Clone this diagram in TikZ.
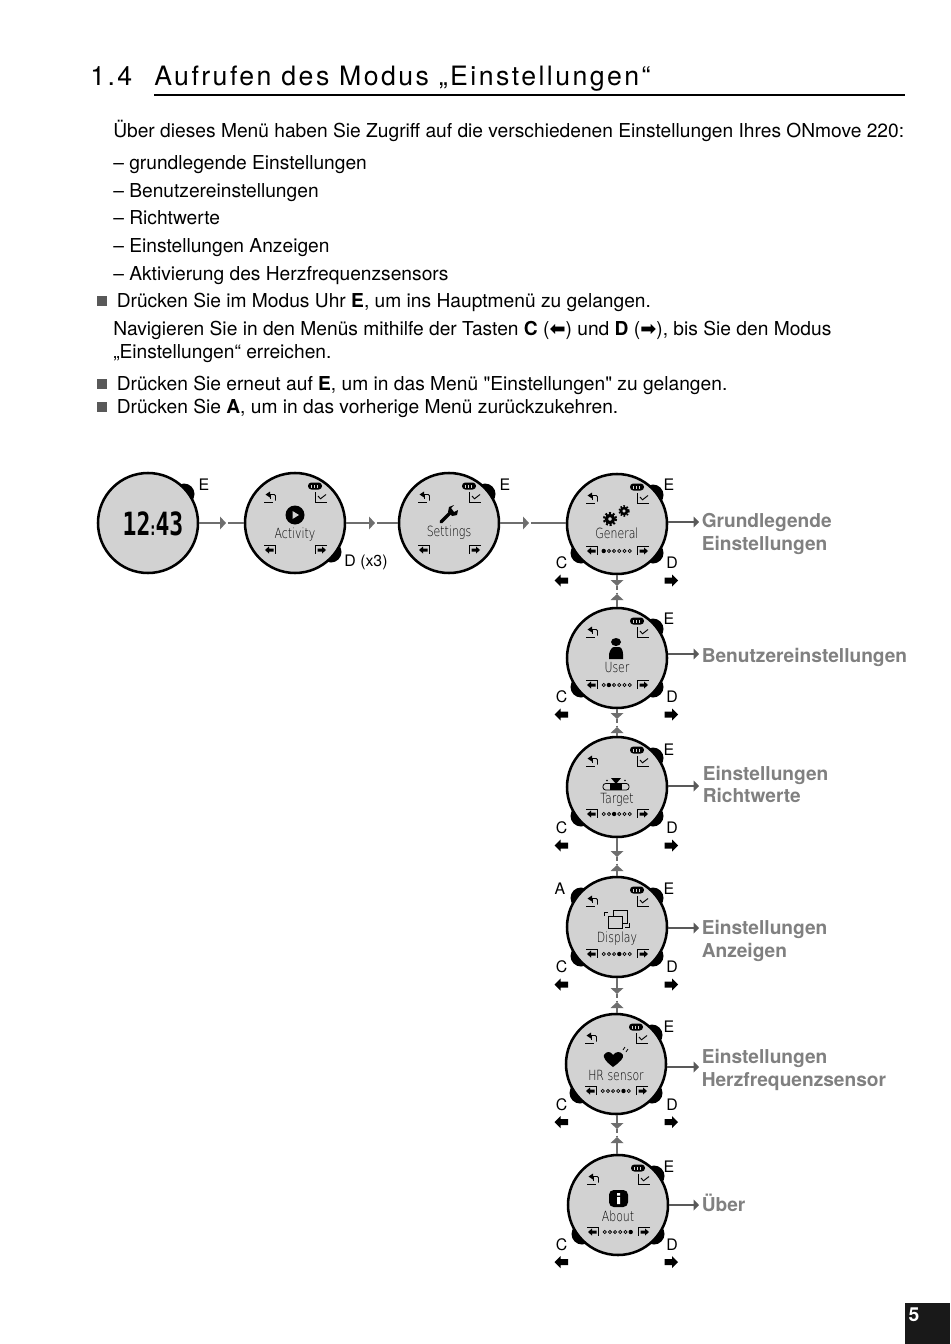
\documentclass[tikz,border=0pt]{standalone}
\usepackage{fontspec}
\usetikzlibrary{arrows.meta}
\setmainfont{TeX Gyre Heros}
\newfontfamily\titlefont[LetterSpace=9.2]{TeX Gyre Heros}
\newfontfamily\plainquote{TeX Gyre Heros}
\newfontfamily\lcdfont{DejaVu Sans ExtraLight}
\newfontfamily\clockfont{DejaVu Sans Mono Bold}
\newfontfamily\arrowfont{DejaVu Sans Bold}
\definecolor{facegray}{HTML}{D2D2D2}
\definecolor{linkgray}{HTML}{6E6E6E}
\definecolor{labelgray}{HTML}{808080}
\tikzset{
  bodytext/.style={anchor=base west, inner sep=0pt, font=\fontsize{14.4}{16}\selectfont},
  sidetext/.style={anchor=base west, inner sep=0pt, text=labelgray, font=\fontsize{14.35}{16}\selectfont\bfseries},
  keytext/.style={anchor=center, inner sep=0pt, font=\fontsize{11.9}{13}\selectfont},
  lcdtext/.style={anchor=base, inner sep=0pt, xscale=0.78, text=black, font=\fontsize{10.5}{12}\lcdfont},
  watch/.style={circle, draw=black, fill=facegray, line width=1.9pt, minimum size=75pt, inner sep=0pt},
  bullet/.style={rectangle, fill=black!65, minimum size=7.5pt, inner sep=0pt},
  link/.style={draw=linkgray, line width=1.4pt},
  flow/.style={link, -{Triangle[length=4.5pt,width=9.5pt]}},
  outflow/.style={draw=black!65, line width=1.2pt, -{Triangle[length=4pt,width=8pt]}},
  thinline/.style={line width=0.7pt, black},
  backicon/.pic={
    \draw[thinline] (-6,5) -- (3,5);
    \draw[thinline, rounded corners=1pt] (0,-2.5) -- (5.5,-2.5) -- (5.5,3.5);
    \draw[thinline] (0,-2.5) -- (0,2);
    \fill (-4.5,-2.5) -- (0,-5.5) -- (0,0.5) -- cycle;
  },
  checkicon/.pic={
    \draw[thinline] (-6,-5) -- (-6,5) -- (6,5);
    \draw[thinline] (-3,-1) -- (-0.5,1.8) -- (5,-2.5);
  },
  battery/.pic={
    \fill[rounded corners=2.5pt] (-7,-3.5) rectangle (7,3.5);
    \fill[facegray] (-4.5,-1.5) rectangle (3,1.5);
    \fill (-3,-1.5) rectangle (-1.5,1.5);
    \fill (0,-1.5) rectangle (1.5,1.5);
  },
  leftkey/.pic={
    \draw[thinline] (-6,-5) -- (5.5,-5) -- (5.5,4);
    \fill (-5,0) -- (-1,-3.5) -- (-1,-1.5) -- (3.5,-1.5) -- (3.5,1.5) -- (-1,1.5) -- (-1,3.5) -- cycle;
  },
  rightkey/.pic={
    \draw[thinline] (6,-5) -- (-5.5,-5) -- (-5.5,4);
    \fill (5,0) -- (1,-3.5) -- (1,-1.5) -- (-3.5,-1.5) -- (-3.5,1.5) -- (1,1.5) -- (1,3.5) -- cycle;
  },
  blockleft/.pic={
    \fill (-7,0) -- (-1,-6) -- (-1,-3) -- (6.5,-3) -- (6.5,3) -- (-1,3) -- (-1,6) -- cycle;
  },
  blockright/.pic={
    \fill (7,0) -- (1,-6) -- (1,-3) -- (-6.5,-3) -- (-6.5,3) -- (1,3) -- (1,6) -- cycle;
  },
}
% one pager dot row, the active dot is filled
\newcommand{\pagerdots}[1]{%
  \foreach \i in {1,...,6}{
    \ifnum\i=#1
      \fill (-18.5+5.2*\i,27) circle (2.2);
    \else
      \draw[line width=0.55pt] (-18.5+5.2*\i,27) circle (1.6);
    \fi
  }}
% buttons stay under the face
\newcommand{\buttonE}{\fill (36,-29) circle (10.5);}
\newcommand{\buttonD}{\fill (36,29) circle (10.5);}
\newcommand{\buttonC}{\fill (-36,29) circle (10.5);}
\newcommand{\buttonA}{\fill (-36,-29) circle (10.5);}
\newcommand{\faceicons}{%
  \pic at (-25,-26) {backicon};
  \pic at (26,-26) {checkicon};
  \pic at (20,-37) {battery};
  \pic at (-25,27) {leftkey};
  \pic at (26,27) {rightkey};
}
\begin{document}
\begin{tikzpicture}[x=0.75pt, y=-0.75pt]
    \useasboundingbox (0,0) rectangle (950,1344);
    \fill[white] (0,0) rectangle (950,1344);

    % heading
    \node[anchor=base west, inner sep=0pt, font=\fontsize{20}{22}\titlefont] (secnum) at (90,86) {1.4};
    \node[anchor=base west, inner sep=0pt, font=\fontsize{20}{22}\titlefont] (sectitle) at (154,86) {Aufrufen des Modus „Einstellungen“};
    \draw[line width=1.1pt] (154,95) -- (905,95);

    % text lines
    \node[bodytext] (t1) at (113,138) {Über dieses Menü haben Sie Zugriff auf die verschiedenen Einstellungen Ihres ONmove 220:};
    \node[bodytext] (t2) at (113,170) {– grundlegende Einstellungen};
    \node[bodytext] (t3) at (113,198) {– Benutzereinstellungen};
    \node[bodytext] (t4) at (113,225) {– Richtwerte};
    \node[bodytext] (t5) at (113,253) {– Einstellungen Anzeigen};
    \node[bodytext] (t6) at (113,281) {– Aktivierung des Herzfrequenzsensors};
    \node[bullet] (b1) at (101.5,301) {};
    \node[bodytext] (t7) at (116.5,307) {Drücken Sie im Modus Uhr \textbf{E}, um ins Hauptmenü zu gelangen.};
    \node[bodytext] (t8) at (113,335) {Navigieren Sie in den Menüs mithilfe der Tasten \textbf{C} ({\arrowfont ⬅}) und \textbf{D} ({\arrowfont ➡}), bis Sie den Modus};
    \node[bodytext] (t9) at (113,358) {„Einstellungen“ erreichen.};
    \node[bullet] (b2) at (101.5,384) {};
    \node[bodytext] (t10) at (116.5,390) {Drücken Sie erneut auf \textbf{E}, um in das Menü {\plainquote"}Einstellungen{\plainquote"} zu gelangen.};
    \node[bullet] (b3) at (101.5,407) {};
    \node[bodytext] (t11) at (116.5,413) {Drücken Sie \textbf{A}, um in das vorherige Menü zurückzukehren.};

    % clock
    \begin{scope}[shift={(148,523)}]
      \buttonE
      \node[watch] (clock) at (0,0) {};
      \node[inner sep=0pt, xscale=0.72, font=\fontsize{24}{26}\clockfont] (clocktime) at (5,1) {12\kern-1.5pt{\fontsize{14}{14}\selectfont:}\kern-1.5pt43};
    \end{scope}
    \node[keytext] (kclock) at (204,485) {E};

    % activity
    \begin{scope}[shift={(295,523)}]
      \buttonD
      \node[watch] (activity) at (0,0) {};
      \faceicons
      \node[lcdtext] (lactivity) at (0,15) {Activity};
      \fill (0,-8) circle (9.5);
      \fill[facegray] (-2.5,-12) -- (4,-8) -- (-2.5,-4) -- cycle;
    \end{scope}
    \node[keytext] (kactivity) at (366,562) {D (x3)};

    % settings
    \begin{scope}[shift={(449,523)}]
      \buttonE
      \node[watch] (settings) at (0,0) {};
      \faceicons
      \node[lcdtext] (lsettings) at (0,13.7) {Settings};
      \draw[line width=2.4pt, line cap=round] (-8,-1) -- (2,-11);
      \fill (5,-18) -- (2,-15) -- (5,-11) -- (9,-13) -- (8,-8) -- (3,-7) -- (-1,-11) -- (0,-16) -- cycle;
    \end{scope}
    \node[keytext] (ksettings) at (505,485) {E};

    % general
    \begin{scope}[shift={(617,524)}]
      \buttonE \buttonC \buttonD
      \node[watch] (general) at (0,0) {};
      \faceicons \pagerdots{1}
      \node[lcdtext] (lgeneral) at (0,14.5) {General};
      \draw[line width=2.4pt] (-7,-5) circle (3.6);
      \draw[line width=1.6pt, dash pattern=on 1.5pt off 1.4pt] (-7,-5) circle (6);
      \draw[line width=1.9pt] (7,-13) circle (3);
      \draw[line width=1.2pt, dash pattern=on 1.2pt off 1.2pt] (7,-13) circle (5);
    \end{scope}

    % user
    \begin{scope}[shift={(617,658)}]
      \buttonE \buttonC \buttonD
      \node[watch] (user) at (0,0) {};
      \faceicons \pagerdots{2}
      \node[lcdtext] (luser) at (0,14.7) {User};
      \fill (-1,-16) ellipse (5 and 4);
      \fill (-8,1) -- (-8,-4) .. controls (-7,-8) and (-5,-11) .. (-3,-11) -- (2,-11) .. controls (4,-11) and (6,-8) .. (6,-4) -- (6,1) -- cycle;
    \end{scope}

    % target
    \begin{scope}[shift={(617,787)}]
      \buttonE \buttonC \buttonD
      \node[watch] (target) at (0,0) {};
      \faceicons \pagerdots{3}
      \node[lcdtext] (ltarget) at (0,16) {Target};
      \draw[line width=0.6pt, rounded corners=2pt] (-14,-3.5) rectangle (12,3);
      \fill (-7,-3.5) rectangle (5,3);
      \fill (-6,-9) -- (4,-9) -- (-1,-3) -- cycle;
      \fill (-10,-6.5) circle (0.9) (8,-6.5) circle (0.9);
    \end{scope}

    % display
    \begin{scope}[shift={(617,927)}]
      \buttonA \buttonE \buttonC \buttonD
      \node[watch] (display) at (0,0) {};
      \faceicons \pagerdots{4}
      \node[lcdtext] (ldisplay) at (0,15) {Display};
      \draw[line width=0.6pt, fill=facegray] (-4,-17) rectangle (10,-4);
      \draw[line width=0.6pt, fill=facegray] (-9,-11) rectangle (5,1);
      \draw[line width=0.6pt] (-13,-11) -- (-13,-15) -- (-9,-15);
      \draw[line width=0.6pt] (12,-4) -- (12,0) -- (8,0);
    \end{scope}

    % heart rate
    \begin{scope}[shift={(616,1064)}]
      \buttonE \buttonC \buttonD
      \node[watch] (hrsensor) at (0,0) {};
      \faceicons \pagerdots{5}
      \node[lcdtext] (lhrsensor) at (0,16) {HR sensor};
      \fill (-3,3) .. controls (-11,-3) and (-13,-7) .. (-12,-9) .. controls (-10,-13) and (-5,-13) .. (-3,-9)
        .. controls (0,-13) and (5,-13) .. (7,-9) .. controls (8,-6) and (4,-2) .. (-3,3) -- cycle;
      \draw[line width=0.6pt] (7,-14) -- (9,-17) (10,-12) -- (12,-15);
    \end{scope}

    % about
    \begin{scope}[shift={(618,1205)}]
      \buttonE \buttonC \buttonD
      \node[watch] (about) at (0,0) {};
      \faceicons \pagerdots{6}
      \node[lcdtext] (labout) at (0,16) {About};
      \fill[rounded corners=3.5pt] (-9,-15) rectangle (10,2);
      \fill[white] (-1,-12) rectangle (2,-9.5) (-1,-8) rectangle (2,-1);
    \end{scope}

    % key letters and black arrows
    \foreach \cy/\nm in {524/gen, 658/usr, 789/tgt, 928/dsp, 1065.5/hrs, 1205.5/abt} {
      \node[keytext] (ke\nm) at (669,\cy-39) {E};
      \node[keytext] (kc\nm) at (561.5,\cy+39) {C};
      \node[keytext] (kd\nm) at (672,\cy+39) {D};
      \pic at (561.5,\cy+56.5) {blockleft};
      \pic at (671,\cy+56.5) {blockright};
    }
    \node[keytext] (kadsp) at (560,889) {A};

    % horizontal links
    \coordinate (c1) at (226,523);
    \coordinate (c2) at (228,523);
    \coordinate (c3) at (375,523);
    \coordinate (c4) at (377,523);
    \coordinate (c5) at (529,523);
    \coordinate (c6) at (531,523);
    \draw[flow] (clock) -- (c1);
    \draw[link] (c2) -- (activity);
    \draw[flow] (activity) -- (c3);
    \draw[link] (c4) -- (settings);
    \draw[flow] (settings) -- (c5);
    \draw[link] (c6) -- (c6 -| general.west);

    % vertical links
    \foreach \upper/\lower/\xx/\ya in {general/user/617/586, user/target/617/719, target/display/617/857, display/hrsensor/617/994, hrsensor/about/617/1129} {
      \coordinate (\upper tipa) at (\xx,\ya);
      \coordinate (\upper tipb) at (\xx,\ya+8);
      \draw[flow] (\upper tipa |- \upper.south) -- (\upper tipa);
      \draw[flow] (\upper tipb |- \lower.north) -- (\upper tipb);
      \draw[link, dash pattern=on 3pt off 2pt] (\upper tipa) -- (\upper tipb);
    }

    % side labels
    \node[sidetext] (sgen) at (701.5,527) {Grundlegende};
    \node[sidetext] (sgen2) at (701.5,550) {Einstellungen};
    \node[sidetext] (susr) at (701.5,662) {Benutzereinstellungen};
    \node[sidetext] (stgt) at (702.5,780) {Einstellungen};
    \node[sidetext] (stgt2) at (702.5,802) {Richtwerte};
    \node[sidetext] (sdsp) at (701.5,934) {Einstellungen};
    \node[sidetext] (sdsp2) at (701.5,957) {Anzeigen};
    \node[sidetext] (shrs) at (701.5,1063) {Einstellungen};
    \node[sidetext] (shrs2) at (701.5,1086) {Herzfrequenzsensor};
    \node[sidetext] (sabt) at (701.5,1211) {Über};

    \coordinate (o1) at (699,522);
    \coordinate (o2) at (699,654);
    \coordinate (o3) at (699,786);
    \coordinate (o4) at (699,928);
    \coordinate (o5) at (699,1067);
    \coordinate (o6) at (699,1205);
    \draw[outflow] (o1 -| general.east) -- (o1);
    \draw[outflow] (o2 -| user.east) -- (o2);
    \draw[outflow] (o3 -| target.east) -- (o3);
    \draw[outflow] (o4 -| display.east) -- (o4);
    \draw[outflow] (o5 -| hrsensor.east) -- (o5);
    \draw[outflow] (o6 -| about.east) -- (o6);

    % page number
    \node[fill=black!90, minimum width=33.75pt, minimum height=30.75pt, inner sep=0pt] (pagebox) at (927.5,1323.5) {};
    \node[inner sep=0pt, text=white, font=\fontsize{14.5}{15}\selectfont\bfseries] (pagenum) at (914,1315) {5};
\end{tikzpicture}
\end{document}
